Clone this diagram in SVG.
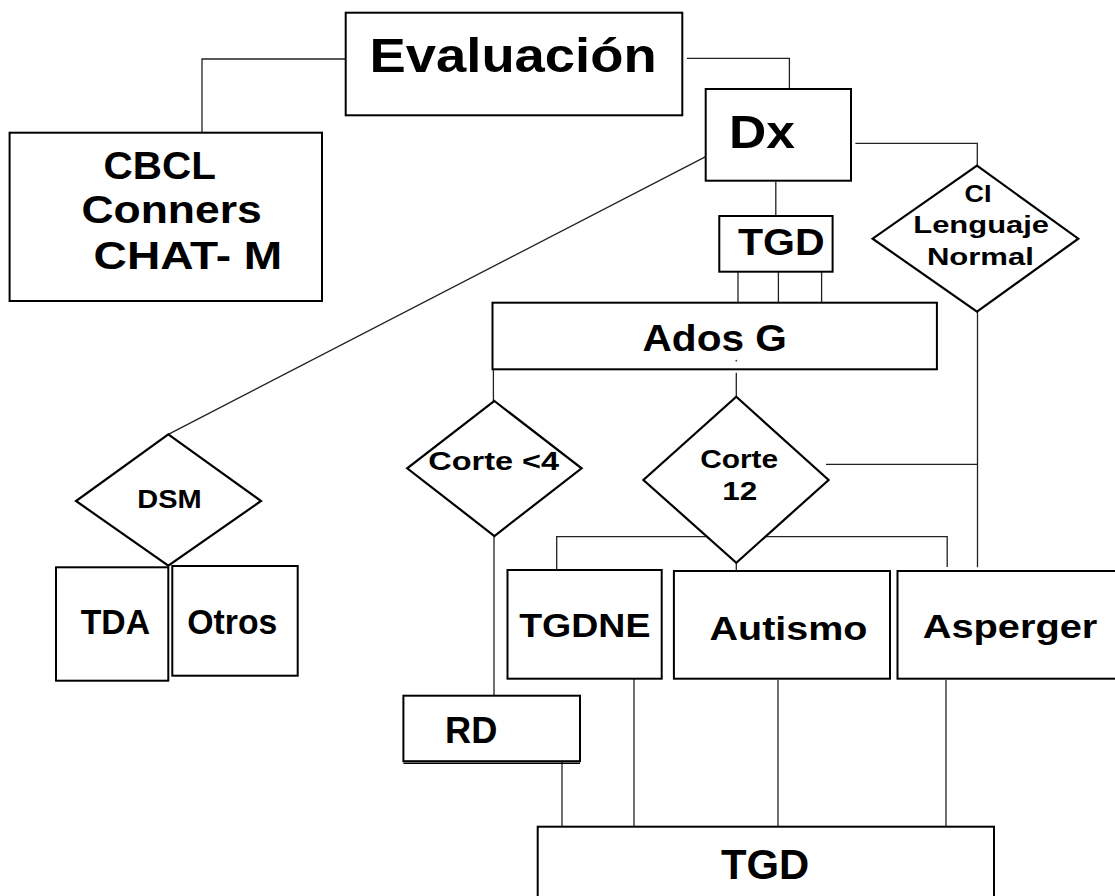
<svg xmlns="http://www.w3.org/2000/svg" width="1115" height="896" viewBox="0 0 1115 896">
<style>
.box{fill:#fff;stroke:#000;stroke-width:2}
.dia{fill:#fff;stroke:#000;stroke-width:2.2}
.con{fill:none;stroke:#222;stroke-width:1.3}
text{font-family:"Liberation Sans",Arial,sans-serif;font-weight:bold;fill:#000}
</style>
<rect width="1115" height="896" fill="#fff"/>
<g id="connectors">
<polyline class="con" points="345.7,59 202,59 202,132.7"/>
<polyline class="con" points="687,58.3 789.4,58.3 789.4,89"/>
<line class="con" x1="705.7" y1="156.7" x2="168.3" y2="434.3"/>
<polyline class="con" points="855.4,143.3 977.3,143.3 977.3,165.7"/>
<line class="con" x1="775.8" y1="181.7" x2="775.8" y2="216"/>
<line class="con" x1="738" y1="271.7" x2="738" y2="302.7"/>
<line class="con" x1="778.4" y1="271.7" x2="778.4" y2="302.7"/>
<line class="con" x1="821.6" y1="271.7" x2="821.6" y2="302.7"/>
<line class="con" x1="977.5" y1="311.7" x2="977.5" y2="567.3"/>
<line class="con" x1="826" y1="464.3" x2="977.5" y2="464.3"/>
<line class="con" x1="493.4" y1="369.3" x2="493.4" y2="401"/>
<line class="con" x1="736.3" y1="372.7" x2="736.3" y2="396.7"/>
<polyline class="con" points="556.7,569.3 556.7,536.7 947.2,536.7 947.2,567"/>
<line class="con" x1="736.3" y1="562.7" x2="736.3" y2="571"/>
<line class="con" x1="494" y1="536" x2="494" y2="695.7"/>
<line class="con" x1="562" y1="762" x2="562" y2="826.7"/>
<line class="con" x1="634" y1="678.7" x2="634" y2="826.7"/>
<line class="con" x1="778" y1="680" x2="778" y2="826.7"/>
<line class="con" x1="946" y1="680" x2="946" y2="826.7"/>
</g>
<g id="evaluacion">
<rect class="box" x="345.7" y="12.7" width="336.6" height="102.6"/>
<text x="369.6" y="71.7" font-size="48" textLength="287" lengthAdjust="spacingAndGlyphs">Evaluación</text>
</g>
<g id="cbcl">
<rect class="box" x="9.6" y="132.7" width="312.4" height="168.3"/>
<text x="103.6" y="179" font-size="38" textLength="112.4" lengthAdjust="spacingAndGlyphs">CBCL</text>
<text x="81.4" y="222.7" font-size="38" textLength="180.4" lengthAdjust="spacingAndGlyphs">Conners</text>
<text x="93.6" y="269.3" font-size="38" textLength="188.6" lengthAdjust="spacingAndGlyphs">CHAT- M</text>
</g>
<g id="dx">
<rect class="box" x="705.7" y="89" width="145.3" height="91.7"/>
<text x="728.9" y="147.7" font-size="46" textLength="66" lengthAdjust="spacingAndGlyphs">Dx</text>
</g>
<g id="ci">
<polygon class="dia" points="977,165.7 1078.3,238.7 977,311.7 872.6,238.7"/>
<text x="964.6" y="201.7" font-size="23" textLength="27" lengthAdjust="spacingAndGlyphs">CI</text>
<text x="913.3" y="233" font-size="24" textLength="135.7" lengthAdjust="spacingAndGlyphs">Lenguaje</text>
<text x="926.9" y="265" font-size="23" textLength="107" lengthAdjust="spacingAndGlyphs">Normal</text>
</g>
<g id="tgd-top">
<rect class="box" x="719.3" y="216" width="113.3" height="55.7"/>
<text x="738" y="255" font-size="36" textLength="86.6" lengthAdjust="spacingAndGlyphs">TGD</text>
</g>
<g id="ados">
<rect class="box" x="492.5" y="302.7" width="444.4" height="66.6"/>
<text x="642.5" y="350.7" font-size="36" textLength="144.4" lengthAdjust="spacingAndGlyphs">Ados G</text>
<circle cx="736.3" cy="360.7" r="0.9" fill="#444"/>
</g>
<g id="corte4">
<polygon class="dia" points="494.4,401 581.6,468.3 494.4,536 407.2,468.3"/>
<text x="428.3" y="470" font-size="26" textLength="130.8" lengthAdjust="spacingAndGlyphs">Corte &lt;4</text>
</g>
<g id="corte12">
<polygon class="dia" points="736.3,396.7 828.6,480 736.3,562.7 643.4,480"/>
<text x="700.2" y="467.7" font-size="26" textLength="78" lengthAdjust="spacingAndGlyphs">Corte</text>
<text x="722.2" y="500" font-size="26" textLength="35" lengthAdjust="spacingAndGlyphs">12</text>
</g>
<g id="dsm">
<polygon class="dia" points="168.3,434.3 261,501 168.3,565.7 76,501"/>
<text x="137.3" y="508" font-size="26" textLength="64.4" lengthAdjust="spacingAndGlyphs">DSM</text>
</g>
<g id="tda">
<rect class="box" x="56" y="567.3" width="112.3" height="113.4"/>
<text x="80.7" y="634" font-size="34.5" textLength="69.3" lengthAdjust="spacingAndGlyphs">TDA</text>
</g>
<g id="otros">
<rect class="box" x="172.3" y="566" width="125.4" height="109.7"/>
<text x="187.3" y="634" font-size="34.5" textLength="90" lengthAdjust="spacingAndGlyphs">Otros</text>
</g>
<g id="tgdne">
<rect class="box" x="507.5" y="570" width="154.2" height="108.7"/>
<text x="519.2" y="636.7" font-size="32.6" textLength="131.3" lengthAdjust="spacingAndGlyphs">TGDNE</text>
</g>
<g id="autismo">
<rect class="box" x="673.9" y="571" width="216.1" height="107.7"/>
<text x="709.5" y="640" font-size="33.5" textLength="158" lengthAdjust="spacingAndGlyphs">Autismo</text>
</g>
<g id="asperger">
<rect class="box" x="897.5" y="571" width="230" height="107.7"/>
<text x="922.7" y="638.3" font-size="34" textLength="174.6" lengthAdjust="spacingAndGlyphs">Asperger</text>
</g>
<g id="rd">
<rect class="box" x="403.4" y="695.7" width="176.6" height="65.5"/>
<line x1="403.4" y1="763.3" x2="580" y2="763.3" stroke="#000" stroke-width="1.5"/>
<text x="445" y="742.7" font-size="36" textLength="52.3" lengthAdjust="spacingAndGlyphs">RD</text>
</g>
<g id="tgd-bottom">
<rect class="box" x="537.7" y="826.7" width="456.3" height="80"/>
<text x="721" y="878.5" font-size="43" textLength="88.3" lengthAdjust="spacingAndGlyphs">TGD</text>
</g>
</svg>
